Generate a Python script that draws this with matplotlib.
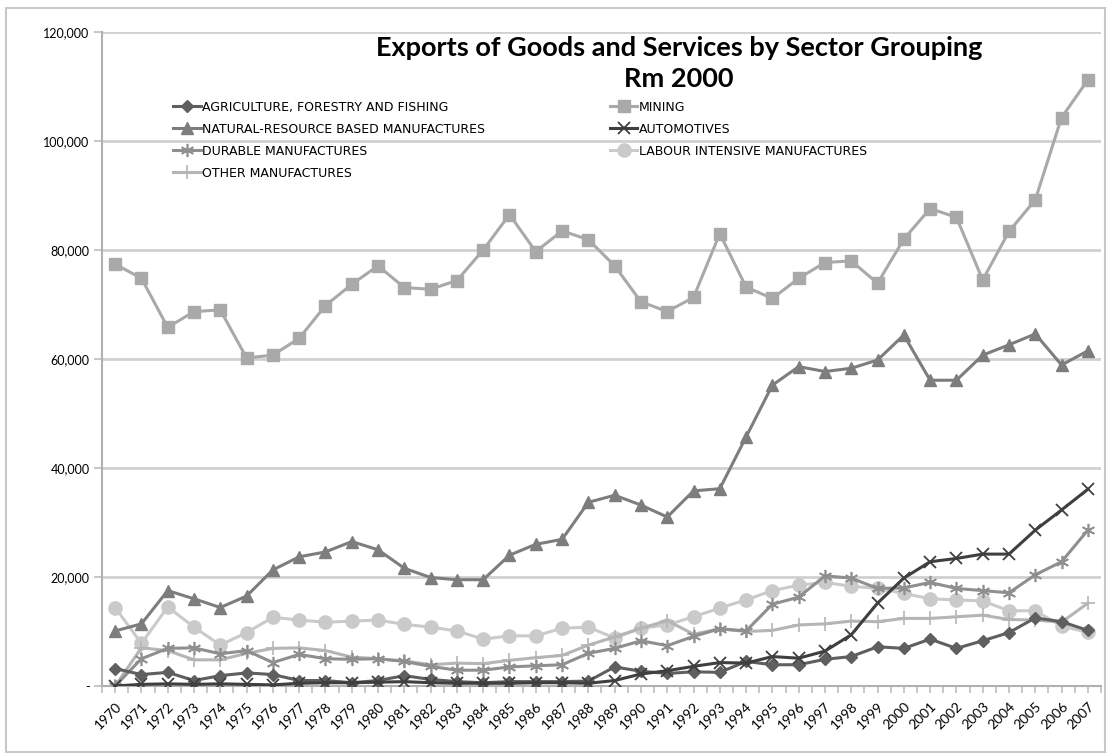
import matplotlib
matplotlib.use("Agg")
import matplotlib.pyplot as plt
from matplotlib.ticker import FuncFormatter, FixedLocator
from matplotlib.patches import Rectangle

years = [str(y) for y in range(1970, 2008)]

agriculture = [3200, 2100, 2500, 1000, 1900, 2400, 2100, 1000, 1000, 600, 1000, 1900,
               1200, 800, 600, 800, 800, 800, 900, 3500, 2700, 2300, 2600, 2500,
               4500, 3900, 3900, 4900, 5400, 7200, 6900, 8600, 6900, 8300, 9800, 12500,
               11800, 10200]
mining = [77400, 74800, 65800, 68700, 69000, 60200, 60700, 63800, 69800, 73700, 77100,
          73100, 72800, 74400, 80000, 86500, 79700, 83500, 81900, 77100, 70500, 68700,
          71300, 83000, 73200, 71100, 74800, 77700, 78000, 73900, 82000, 87600, 86000,
          74500, 83400, 89200, 104300, 111200]
natural_resource = [10100, 11400, 17500, 16000, 14400, 16500, 21300, 23700, 24600, 26500,
                    25000, 21600, 19900, 19500, 19500, 24000, 26000, 26900, 33700, 35000,
                    33200, 31000, 35800, 36200, 45700, 55200, 58600, 57700, 58300, 59800,
                    64400, 56100, 56100, 60700, 62600, 64600, 58900, 61500]
automotives = [0, 300, 400, 300, 400, 300, 200, 500, 600, 600, 700, 800, 600, 500, 500,
               500, 600, 600, 500, 1000, 2200, 2800, 3600, 4300, 4200, 5400, 5100, 6400,
               9400, 15200, 19800, 22800, 23400, 24200, 24200, 28600, 32300, 36100]
durable = [0, 5000, 6900, 7000, 5900, 6500, 4300, 5800, 5000, 4900, 5000, 4500, 3600,
           2900, 2900, 3500, 3700, 3900, 6000, 6900, 8300, 7400, 9100, 10500, 10100,
           15000, 16300, 20200, 19800, 17900, 18000, 19000, 17900, 17500, 17100, 20400,
           22800, 28600]
labour = [14400, 7800, 14500, 10800, 7500, 9800, 12600, 12100, 11700, 11900, 12100, 11300,
          10800, 10100, 8600, 9200, 9200, 10600, 10800, 8800, 10600, 11200, 12700, 14300,
          15800, 17500, 18500, 19000, 18300, 17900, 17000, 16000, 15800, 15600, 13800,
          13800, 11000, 9850]
other = [0, 7000, 6500, 4800, 4800, 6000, 6900, 7000, 6500, 5300, 5000, 4600, 3900, 4200,
         4100, 4700, 5200, 5600, 7500, 9000, 10600, 12000, 9500, 10500, 10000, 10200,
         11200, 11400, 11900, 11800, 12400, 12400, 12700, 13000, 12200, 12100, 11700, 15200]

plt.rcParams['font.family'] = ['Lato', 'DejaVu Sans']

fig = plt.figure(figsize=(11.11, 7.56), dpi=100)
fig.patches.append(Rectangle((0.005, 0.005), 0.99, 0.984, transform=fig.transFigure,
                             fill=False, edgecolor='#c8c8c8', linewidth=1.5))
ax = fig.add_axes([0.0918, 0.0926, 0.8992, 0.8651])

x = list(range(len(years)))
lw = 2.2
ms = 7.5
h_agr, = ax.plot(x, agriculture, color='#5f5f5f', marker='D', markersize=ms - 1, linewidth=lw,
                 label='AGRICULTURE, FORESTRY AND FISHING', zorder=4)
h_min, = ax.plot(x, mining, color='#a9a9a9', marker='s', markersize=ms + 1, linewidth=lw,
                 label='MINING', zorder=3)
h_nat, = ax.plot(x, natural_resource, color='#7d7d7d', marker='^', markersize=ms + 1,
                 linewidth=lw, label='NATURAL-RESOURCE BASED MANUFACTURES', zorder=3)
h_aut, = ax.plot(x, automotives, color='#3f3f3f', marker='x', markersize=ms + 1,
                 markeredgewidth=1.3, linewidth=lw, label='AUTOMOTIVES', zorder=5)
h_dur, = ax.plot(x, durable, color='#8f8f8f', marker=(6, 2, 0), markersize=ms + 2,
                 markeredgewidth=1.2, linewidth=lw, label='DURABLE MANUFACTURES', zorder=3)
h_lab, = ax.plot(x, labour, color='#cacaca', marker='o', markersize=ms + 2, linewidth=lw,
                 label='LABOUR INTENSIVE MANUFACTURES', zorder=2)
h_oth, = ax.plot(x, other, color='#b5b5b5', marker='+', markersize=ms + 2, markeredgewidth=1.2,
                 linewidth=lw, label='OTHER MANUFACTURES', zorder=2)

ax.set_xlim(-0.5, len(years) - 0.5)
ax.set_ylim(0, 120000)
ax.set_yticks(range(0, 120001, 20000))
ax.yaxis.set_major_formatter(FuncFormatter(lambda v, p: '-' if v == 0 else '{:,.0f}'.format(v)))
ax.grid(axis='y', color='#d0d0d0', linewidth=2)
ax.set_axisbelow(True)

ax.set_xticks(x)
ax.set_xticklabels(years, rotation=45, ha='right', rotation_mode='anchor', fontsize=10)
ax.xaxis.set_minor_locator(FixedLocator([i - 0.5 for i in range(len(years) + 1)]))
ax.tick_params(axis='x', which='both', length=5, color='#bdbdbd', width=1.2, pad=5)
ax.tick_params(axis='y', length=6, color='#bdbdbd', width=1.2, labelsize=9, pad=3)

for side in ['top', 'right']:
    ax.spines[side].set_visible(False)
for side in ['left', 'bottom']:
    ax.spines[side].set_color('#b0b0b0')
    ax.spines[side].set_linewidth(1.5)

fig.text(0.611, 0.937, 'Exports of Goods and Services by Sector Grouping', ha='center',
         va='center', fontsize=19.5, fontweight='bold')
fig.text(0.611, 0.896, 'Rm 2000', ha='center', va='center', fontsize=19.5, fontweight='bold')

# row-wise legend order like the original: fill column 1 first, then column 2
handles = [h_agr, h_nat, h_dur, h_oth, h_min, h_aut, h_lab]
leg = ax.legend(handles=handles, loc='upper left', bbox_to_anchor=(0.06, 0.912), ncol=2,
                frameon=False, handlelength=2.2, columnspacing=10.0, labelspacing=0.72,
                handletextpad=0.1,
                prop={'family': ['Liberation Sans Narrow', 'DejaVu Sans'], 'size': 9})

fig.savefig('out.png', dpi=100)
